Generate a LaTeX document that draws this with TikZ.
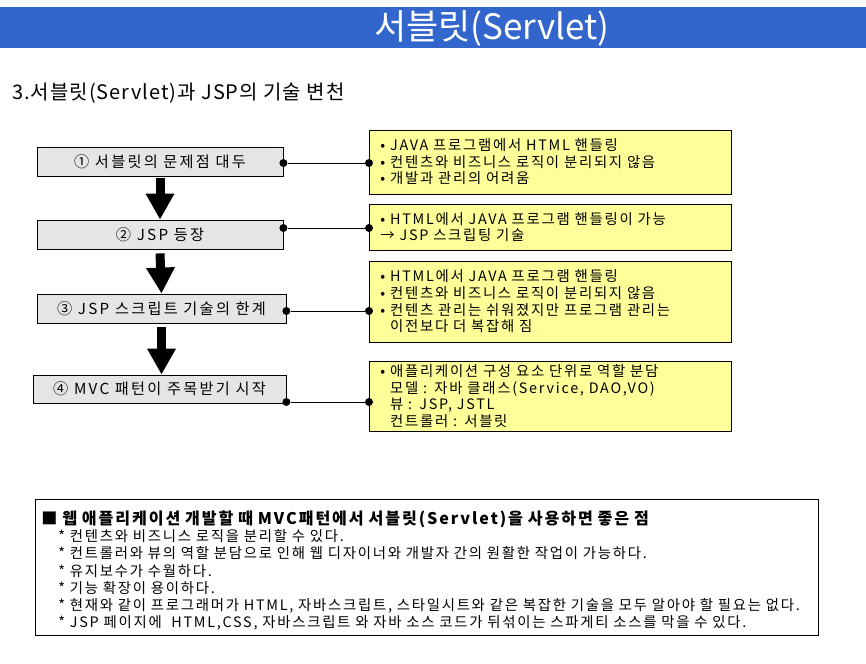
\documentclass[tikz,border=0pt]{standalone}
\usepackage{fontspec}
\newfontfamily\kr[LetterSpace=12]{Noto Sans CJK KR}
\newfontfamily\krstage[LetterSpace=15]{Noto Sans CJK KR}
\newfontfamily\krsub[LetterSpace=5]{Noto Sans CJK KR}
\newfontfamily\krplain{Noto Sans CJK KR}
\usetikzlibrary{arrows.meta}
\definecolor{barblue}{HTML}{3366CC}
\definecolor{stagegray}{HTML}{E3E6E3}
\definecolor{noteyellow}{HTML}{FFFF99}
\begin{document}
\begin{tikzpicture}[x=1pt,y=-1pt,
  stage/.style={draw,fill=stagegray,line width=0.8pt,inner sep=0pt,minimum height=29pt,
    font=\krstage\fontsize{15.2}{17}\selectfont},
  note/.style={draw,fill=noteyellow,line width=0.8pt,inner xsep=11pt,inner ysep=0pt,
    text width=340pt,align=left,anchor=west,font=\kr\fontsize{14.4}{16.6}\selectfont},
  flow/.style={line width=9pt,-{Triangle[length=26pt,width=27pt]}},
  link/.style={line width=0.8pt},
  dot/.style={circle,fill,inner sep=0pt,minimum size=8pt}]
\useasboundingbox (0,0) rectangle (866,663);
\fill[barblue] (0,7) rectangle (866,48);
\node[text=white,font=\krplain\fontsize{35}{38}\selectfont] (title) at (492,28) {서블릿(Servlet)};
\node[anchor=west,inner sep=0pt,font=\krsub\fontsize{20}{22}\selectfont] (subtitle) at (12,93) {3.서블릿(Servlet)과 JSP의 기술 변천};

\node[stage,minimum width=246pt] (b1) at (160,161.5) {① 서블릿의 문제점 대두};
\node[stage,minimum width=246pt] (b2) at (160,234.5) {② JSP 등장};
\node[stage,minimum width=249pt] (b3) at (161.5,308.5) {③ JSP 스크립트 기술의 한계};
\node[stage,minimum width=253pt,minimum height=28pt] (b4) at (159.5,389) {④ MVC 패턴이 주목받기 시작};

\draw[flow] ([yshift=-2pt]b1.south) -- (b2.north);
\draw[flow] ([yshift=-4pt]b2.south) -- (b3.north);
\draw[flow] ([yshift=-4pt]b3.south) -- (b3.south |- b4.north);

\node[note,minimum height=64pt] (n1) at (369,162) {• JAVA 프로그램에서 HTML 핸들링\\• 컨텐츠와 비즈니스 로직이 분리되지 않음\\• 개발과 관리의 어려움};
\node[note,minimum height=46pt] (n2) at (369,227) {• HTML에서 JAVA 프로그램 핸들링이 가능\\→ JSP 스크립팅 기술};
\node[note,minimum height=81pt] (n3) at (369,301.5) {• HTML에서 JAVA 프로그램 핸들링\\• 컨텐츠와 비즈니스 로직이 분리되지 않음\\• 컨텐츠 관리는 쉬워졌지만 프로그램 관리는\\\phantom{• }이전보다 더 복잡해 짐};
\node[note,minimum height=70pt] (n4) at (369,396) {• 애플리케이션 구성 요소 단위로 역할 분담\\\phantom{• }모델 : 자바 클래스(Service, DAO,VO)\\\phantom{• }뷰 : JSP, JSTL\\\phantom{• }컨트롤러 : 서블릿};

\node[dot] (d1a) at ([yshift=-1.5pt]b1.east) {};
\node[dot] (d1b) at (d1a -| n1.west) {};
\node[dot] (d2a) at ([yshift=6.5pt]b2.east) {};
\node[dot] (d2b) at (d2a -| n2.west) {};
\node[dot] (d3a) at ([yshift=-2.5pt]b3.east) {};
\node[dot] (d3b) at (d3a -| n3.west) {};
\node[dot] (d4a) at ([yshift=-13pt]b4.east) {};
\node[dot] (d4b) at (d4a -| n4.west) {};
\draw[link] (d1a) -- (d1b);
\draw[link] (d2a) -- (d2b);
\draw[link] (d3a) -- (d3b);
\draw[link] (d4a) -- (d4b);

\node[draw,line width=0.8pt,anchor=north west,minimum width=783pt,minimum height=136pt,
  inner xsep=6pt,inner ysep=0pt,text width=771pt,align=left,
  font=\kr\fontsize{14.4}{17.2}\selectfont] (merit) at (35,499)
  {\rule{0pt}{20pt}{\kr\fontsize{16.1}{17.2}\selectfont\bfseries ■ 웹 애플리케이션 개발할 때 MVC패턴에서 서블릿(Servlet)을 사용하면 좋은 점}\\
  \hspace*{17pt}* 컨텐츠와 비즈니스 로직을 분리할 수 있다.\\
  \hspace*{17pt}* 컨트롤러와 뷰의 역할 분담으로 인해 웹 디자이너와 개발자 간의 원활한 작업이 가능하다.\\
  \hspace*{17pt}* 유지보수가 수월하다.\\
  \hspace*{17pt}* 기능 확장이 용이하다.\\
  \hspace*{17pt}* 현재와 같이 프로그래머가 HTML, 자바스크립트, 스타일시트와 같은 복잡한 기술을 모두 알아야 할 필요는 없다.\\
  \hspace*{17pt}* JSP 페이지에 \ HTML,CSS, 자바스크립트 와 자바 소스 코드가 뒤섞이는 스파게티 소스를 막을 수 있다.};
\end{tikzpicture}
\end{document}
